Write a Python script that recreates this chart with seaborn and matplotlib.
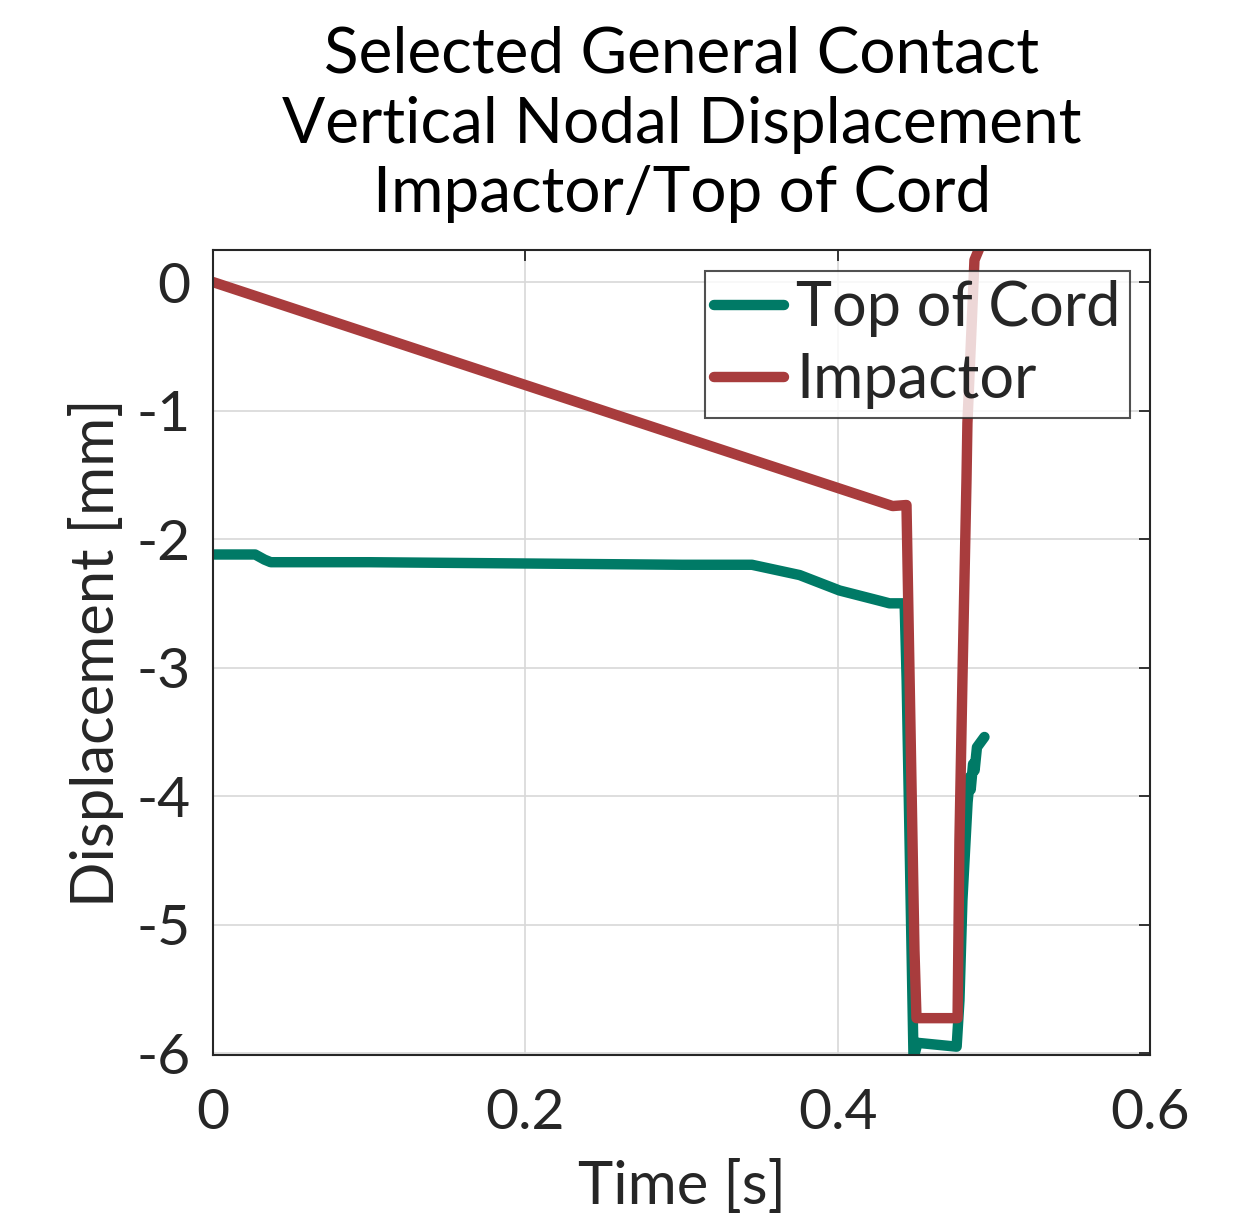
import matplotlib
matplotlib.use("Agg")
import matplotlib.pyplot as plt
import seaborn as sns
import pandas as pd

# ---- data ----
t_cord = [0.0, 0.027, 0.033, 0.037, 0.10, 0.20, 0.30, 0.345, 0.3755, 0.401, 0.4267,
          0.433, 0.4427, 0.444, 0.4484, 0.451, 0.476, 0.4778, 0.4797, 0.483,
          0.4845, 0.4850, 0.4865, 0.4875, 0.489, 0.4938]
y_cord = [-2.12, -2.12, -2.16, -2.18, -2.18, -2.19, -2.20, -2.20, -2.28, -2.40, -2.48,
          -2.50, -2.50, -3.10, -6.04, -5.92, -5.95, -5.59, -4.81, -4.05,
          -3.85, -3.95, -3.75, -3.80, -3.62, -3.54]

t_imp = [0.0, 0.435, 0.4439, 0.449, 0.4503, 0.4766, 0.4778, 0.4797, 0.4823,
         0.4829, 0.4874, 0.4906]
y_imp = [0.0, -1.743, -1.735, -5.2, -5.728, -5.728, -4.342, -3.097, -1.541,
         -1.097, 0.171, 0.265]

series_names = ["Top of Cord", "Impactor"]
x_ticks = [0, 0.2, 0.4, 0.6]
x_tick_labels = ["0", "0.2", "0.4", "0.6"]
y_ticks = [-6, -5, -4, -3, -2, -1, 0]
y_tick_labels = ["-6", "-5", "-4", "-3", "-2", "-1", "0"]

df = pd.concat([
    pd.DataFrame({"Time": t_cord, "Disp": y_cord, "Series": series_names[0]}),
    pd.DataFrame({"Time": t_imp, "Disp": y_imp, "Series": series_names[1]}),
], ignore_index=True)

sns.set_theme(style="white")
plt.rcParams["font.family"] = ["Lato", "DejaVu Sans"]

fig = plt.figure(figsize=(12.6, 12.18), dpi=100)
ax = fig.add_axes([0.169, 0.1338, 0.744, 0.661])

palette = {"Top of Cord": "#007A66", "Impactor": "#A83C3D"}
sns.lineplot(data=df, x="Time", y="Disp", hue="Series", palette=palette,
             estimator=None, sort=False, linewidth=7.5, ax=ax,
             hue_order=series_names)

ax.set_xlim(0, 0.6)
ax.set_ylim(-6.015, 0.25)
ax.set_xticks(x_ticks)
ax.set_xticklabels(x_tick_labels)
ax.set_yticks(y_ticks)
ax.set_yticklabels(y_tick_labels)
ax.grid(True, color="#D8D8D8", linewidth=1.2)
ax.set_axisbelow(True)
for s in ax.spines.values():
    s.set_visible(True)
    s.set_color("#262626")
    s.set_linewidth(1.5)
ax.tick_params(direction="in", top=True, right=True, length=8, width=1.3,
               labelsize=41, colors="#262626")
ax.tick_params(axis="x", pad=24)
ax.tick_params(axis="y", pad=16)
for lab in ax.get_xticklabels() + ax.get_yticklabels():
    lab.set_color("#262626")

ax.set_xlabel("Time [s]", fontsize=43, color="#262626", labelpad=14)
ax.set_ylabel("Displacement [mm]", fontsize=43, color="#262626", labelpad=9)
ax.set_title("Selected General Contact\nVertical Nodal Displacement\nImpactor/Top of Cord",
             fontsize=46, color="black", linespacing=1.25, pad=27)

leg = ax.legend(loc="upper right", bbox_to_anchor=(0.978, 0.974), fontsize=44,
                frameon=True, fancybox=False, edgecolor="#262626",
                handlelength=1.15, handletextpad=0.2, borderpad=0.15,
                labelspacing=0.25, borderaxespad=0.0)
leg.get_frame().set_linewidth(1.5)
for line in leg.get_lines():
    line.set_linewidth(7.5)

fig.savefig("out.png", dpi=100)
